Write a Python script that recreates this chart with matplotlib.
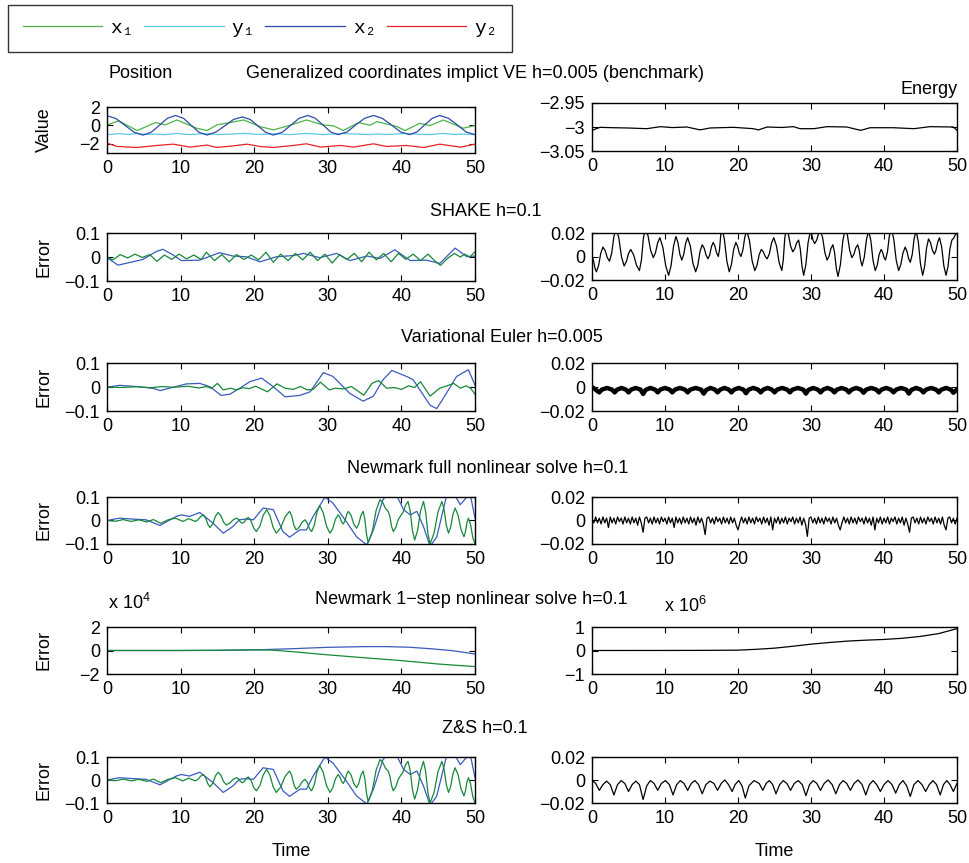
import matplotlib
matplotlib.use('Agg')
import matplotlib.pyplot as plt
from matplotlib.font_manager import FontProperties
import numpy as np

# ---------------- data ----------------
xticks = [0, 10, 20, 30, 40, 50]

# row 1: benchmark positions and energy
bench_x2_t = [0, 1.2, 2.45, 3.7, 4.9, 6.0, 7.1, 8.2, 9.3, 10.4, 11.45, 12.5, 13.6, 14.8, 16.0, 17.2,
              18.4, 19.45, 20.5, 21.55, 22.6, 23.8, 24.95, 26.1, 27.3, 28.3, 29.35, 30.4, 31.4, 32.6,
              33.8, 35.0, 36.2, 37.4, 38.65, 39.9, 41.1, 42.1, 43.15, 44.2, 45.2, 46.4, 47.6, 48.8, 50]
bench_x2 = [1.05, 0.75, 0.0, -0.75, -1.05, -0.75, 0.0, 0.77, 1.08, 0.77, 0.0, -0.75, -1.05, -0.72,
            -0.05, 0.65, 0.92, 0.65, -0.05, -0.75, -1.05, -0.75, 0.0, 0.77, 1.08, 0.77, 0.05, -0.72,
            -1.0, -0.72, 0.05, 0.77, 1.08, 0.77, 0.05, -0.72, -1.0, -0.72, 0.05, 0.77, 1.08, 0.77,
            0.05, -0.72, -1.0]
bench_x1_t = [0, 1.6, 4.1, 6.6, 7.9, 9.5, 12.2, 13.6, 14.9, 16.7, 18.6, 20.8, 22.6, 24.9, 27.1, 29.4,
              30.8, 32.1, 34.2, 35.7, 36.7, 39.4, 40.5, 42.5, 43.9, 45.7, 48.4, 50]
bench_x1 = [0.05, 0.49, -0.56, 0.31, 0.05, 0.59, -0.31, -0.56, 0.05, 0.31, 0.59, -0.13, -0.49, 0.02,
            0.59, 0.05, -0.05, -0.56, 0.31, 0.02, 0.41, -0.13, -0.56, 0.23, -0.02, 0.59, -0.31, -0.02]
bench_y1_t = [0, 0.8, 1.6, 2.8, 4.1, 5.4, 6.6, 7.9, 9.5, 11.0, 12.2, 13.6, 14.9, 16.7, 18.6, 20.8,
              22.6, 24.9, 27.1, 29.4, 32.1, 34.2, 35.7, 36.7, 38.0, 40.5, 42.5, 43.9, 45.7, 47.2, 48.4, 50]
bench_y1 = [-1.0, -0.96, -0.89, -0.99, -0.88, -0.98, -0.95, -1.0, -0.87, -0.99, -0.95, -0.88, -1.0,
            -0.95, -0.87, -0.99, -0.9, -1.0, -0.87, -1.0, -0.88, -0.95, -1.0, -0.93, -0.99, -0.88,
            -0.97, -1.0, -0.87, -0.99, -0.95, -1.0]
bench_y2_t = [0, 1.4, 4.1, 6.8, 9.0, 11.3, 13.6, 14.9, 17.2, 19.0, 20.8, 22.6, 25.3, 27.1, 29.0, 31.7,
              33.5, 36.2, 38.0, 40.7, 43.0, 45.2, 48.0, 50]
bench_y2 = [-1.93, -2.29, -2.40, -2.18, -2.04, -2.36, -2.14, -2.40, -2.22, -2.04, -2.29, -2.40, -2.18,
            -2.0, -2.36, -2.18, -2.36, -2.0, -2.29, -2.18, -2.40, -2.04, -2.36, -2.04]
bench_e_t = [0, 1.1, 3.0, 4.8, 7.5, 9.4, 11.0, 13.0, 14.8, 16.2, 19.4, 22.1, 22.8, 24.0, 26.0, 27.6,
             28.5, 30.4, 32.2, 34.9, 36.8, 38.1, 41.3, 44.1, 46.3, 49.5, 50]
bench_e = [-3.007, -3.0007, -3.0015, -3.002, -3.0035, -2.9993, -3.0012, -3.0, -3.006, -3.002, -3.0007,
           -3.0035, -3.006, -3.0, -3.001, -2.9993, -3.0035, -3.0035, -2.9993, -3.0, -3.007, -3.0015,
           -3.0015, -3.0035, -2.9993, -3.0, -3.007]

# row 2: SHAKE h=0.1
shake_x2_t = [0, 1.5, 3.5, 4.9, 6.7, 7.6, 9.0, 10.1, 12.6, 15.3, 17.1, 18.9, 20.8, 23.0, 25.3, 26.7,
              28.9, 31.2, 33.0, 35.3, 37.1, 39.1, 41.2, 43.4, 45.2, 47.3, 48.9, 50]
shake_x2 = [-0.003, -0.034, -0.02, -0.01, 0.023, 0.032, 0.008, -0.015, -0.013, 0.018, 0.004, 0.001,
            -0.02, 0.001, 0.006, 0.015, -0.003, 0.015, -0.015, 0.004, -0.006, 0.03, -0.015, -0.013,
            -0.027, 0.037, 0.001, 0.004]
shake_x1_t = [0, 0.8, 1.8, 2.8, 3.8, 4.8, 5.8, 6.8, 7.8, 8.8, 9.8, 10.8, 11.8, 12.8, 13.5, 14.6, 15.6,
              16.6, 17.6, 18.6, 19.6, 20.6, 21.6, 22.6, 23.6, 24.6, 25.6, 26.6, 27.6, 28.6, 29.6, 30.6,
              31.6, 32.6, 33.6, 34.6, 35.6, 36.6, 37.6, 38.6, 39.6, 40.6, 41.6, 42.6, 43.6, 44.5, 45.3,
              46.3, 47.2, 48.0, 48.6, 49.3, 50]
shake_x1 = [0.0, -0.012, 0.01, -0.004, 0.012, -0.002, 0.01, -0.018, 0.008, -0.01, 0.012, -0.008, 0.008,
            -0.01, 0.02, -0.015, 0.01, -0.02, 0.01, -0.01, 0.008, -0.012, 0.02, -0.022, 0.012, -0.015,
            0.015, -0.012, 0.02, -0.015, 0.012, -0.025, 0.01, -0.01, 0.015, -0.02, 0.02, -0.012, 0.015,
            -0.02, 0.015, -0.01, 0.012, -0.015, 0.012, -0.015, -0.035, -0.005, 0.015, 0.0, 0.012, 0.0,
            0.022]
shake_e_t = [0, 0.2, 0.4, 0.6, 0.9, 1.2, 1.5, 1.8, 2.1, 2.4, 2.7, 3.0, 3.3, 3.67, 4.03, 4.4, 4.7, 5.0,
             5.3, 5.7, 6.1, 6.5, 6.77, 7.03, 7.3, 7.67, 8.03, 8.4, 8.7, 9.0, 9.3, 9.7, 10.1, 10.5,
             10.83, 11.17, 11.5, 11.77, 12.03, 12.3, 12.57, 12.83, 13.1, 13.47, 13.83, 14.2, 14.5, 14.8,
             15.1, 15.37, 15.63, 15.9, 16.13, 16.37, 16.6, 16.83, 17.07, 17.3, 17.47, 17.63, 17.8, 18.13,
             18.47, 18.8, 19.1, 19.4, 19.7, 19.93, 20.17, 20.4, 20.67, 20.93, 21.2, 21.57, 21.93, 22.3,
             22.6, 22.9, 23.2, 23.47, 23.73, 24.0, 24.3, 24.6, 24.9, 25.27, 25.63, 26.0, 26.2, 26.4,
             26.6, 26.9, 27.2, 27.5, 27.77, 28.03, 28.3, 28.53, 28.77, 29.0, 29.3, 29.6, 29.9, 30.1,
             30.3, 30.5, 30.77, 31.03, 31.3, 31.6, 31.9, 32.2, 32.47, 32.73, 33.0, 33.23, 33.47, 33.7,
             34.03, 34.37, 34.7, 35.0, 35.3, 35.6, 35.87, 36.13, 36.4, 36.6, 36.8, 37.0, 37.3, 37.6,
             37.9, 38.2, 38.5, 38.8, 39.07, 39.33, 39.6, 39.8, 40.0, 40.2, 40.47, 40.73, 41.0, 41.33,
             41.67, 42.0, 42.3, 42.6, 42.9, 43.13, 43.37, 43.6, 43.87, 44.13, 44.4, 44.7, 45.0, 45.3,
             45.57, 45.83, 46.1, 46.37, 46.63, 46.9, 47.13, 47.37, 47.6, 47.9, 48.2, 48.5, 48.77, 49.03,
             49.3, 49.53, 49.77, 50]
shake_e = [0.0, -0.0033, -0.0098, -0.013, -0.0078, 0.0028, 0.008, 0.005, -0.001, -0.004, 0.003, 0.017,
           0.024, 0.016, 0.0, -0.008, -0.0045, 0.0025, 0.006, 0.0015, -0.0075, -0.012, -0.003, 0.015,
           0.024, 0.0178, 0.0053, -0.001, 0.0033, 0.0118, 0.016, 0.008, -0.008, -0.016, -0.0078, 0.0088,
           0.017, 0.012, 0.002, -0.003, 0.0018, 0.0113, 0.016, 0.0088, -0.0058, -0.013, -0.0073, 0.0043,
           0.01, 0.007, 0.001, -0.002, 0.0015, 0.0085, 0.012, 0.009, 0.003, 0.0, 0.006, 0.018,
           0.024, 0.0148, -0.0038, -0.013, -0.0068, 0.0058, 0.012, 0.009, 0.003, 0.0, 0.0055, 0.0165,
           0.022, 0.0135, -0.0035, -0.012, -0.0075, 0.0015, 0.006, 0.004, 0.0, -0.002, 0.0025, 0.0115,
           0.016, 0.009, -0.005, -0.012, -0.003, 0.015, 0.024, 0.019, 0.009, 0.004, 0.0065, 0.0115,
           0.014, 0.0065, -0.0085, -0.016, -0.0068, 0.0118, 0.021, 0.0185, 0.0135, 0.011, 0.0138, 0.0193,
           0.022, 0.0158, 0.0033, -0.003, 0.0003, 0.0068, 0.01, 0.0033, -0.0103, -0.017, -0.0068, 0.0138,
           0.024, 0.0178, 0.0053, -0.001, 0.0018, 0.0073, 0.01, 0.0055, -0.0035, -0.008, -0.0005, 0.0145,
           0.022, 0.0135, -0.0035, -0.012, -0.0075, 0.0015, 0.006, 0.0038, -0.0008, -0.003, 0.0038,
           0.0173, 0.024, 0.015, -0.003, -0.012, -0.007, 0.003, 0.008, 0.0048, -0.0018, -0.005, 0.0018,
           0.0153, 0.022, 0.0125, -0.0065, -0.016, -0.0083, 0.0073, 0.015, 0.0118, 0.0053, 0.002, 0.0055,
           0.0125, 0.016, 0.008, -0.008, -0.016, -0.0085, 0.0065, 0.014, 0.0155, 0.0185, 0.02]

# row 3: Variational Euler h=0.005
ve_x2_t = [0, 1.7, 4.4, 6.3, 7.2, 9.0, 10.8, 12.6, 14.0, 15.5, 16.7, 18.0, 19.4, 21.0, 22.6, 24.2,
           26.2, 27.6, 29.4, 30.7, 33.0, 34.8, 36.2, 37.5, 38.7, 40.7, 41.6, 43.9, 44.8, 46.1, 47.5,
           49.1, 50]
ve_x2 = [-0.001, 0.007, 0.001, -0.006, -0.015, -0.001, 0.013, 0.015, 0.001, -0.035, -0.03, -0.006,
         0.022, 0.037, 0.001, -0.041, -0.035, -0.02, 0.06, 0.044, -0.027, -0.059, -0.038, 0.03, 0.069,
         0.044, 0.03, -0.076, -0.09, -0.027, 0.044, 0.072, 0.008]
ve_x1_t = [0, 2, 4, 6, 7.5, 9, 11, 12.5, 13.5, 14.2, 15.0, 15.8, 16.8, 17.5, 18.5, 19.3, 20.2, 21.8,
           23.1, 24.2, 25.3, 26.3, 27.2, 28.0, 29.0, 30.2, 31.0, 32.2, 33.2, 34.9, 36.0, 36.9, 38.0,
           39.0, 40.0, 41.0, 41.8, 42.6, 43.9, 45.2, 46.2, 47.1, 48.0, 48.8, 49.4, 50]
ve_x1 = [0, -0.002, 0.001, -0.003, 0.002, -0.001, 0.003, -0.004, 0.002, -0.006, 0.015, -0.012, -0.005,
         -0.012, -0.003, -0.007, 0.003, -0.02, 0.013, -0.005, -0.01, 0.002, -0.012, -0.01, 0.02, -0.012,
         -0.005, -0.008, 0.002, -0.034, 0.015, 0.027, -0.005, -0.002, -0.01, 0.005, -0.002, 0.022,
         -0.038, -0.005, 0.005, 0.015, -0.005, 0.005, -0.005, -0.03]
ve_e_t = [0, 0.35, 0.65,
          1.0, 1.35, 2.05, 2.75, 3.1, 3.45, 4.05, 4.65, 5.0, 5.35, 6.0, 6.65, 7.0, 7.35, 8.0, 8.65,
          9.0, 9.35, 10.0, 10.65, 11.0, 11.35, 12.05, 12.75, 13.1, 13.45, 14.2, 14.95, 15.3, 15.65,
          16.25, 16.85, 17.2, 17.55, 18.15, 18.75, 19.1, 19.45, 20.1, 20.75, 21.1, 21.45, 22.1, 22.75,
          23.1, 23.45, 24.05, 24.65, 25.0, 25.35, 26.05, 26.75, 27.1, 27.45, 28.2, 28.95, 29.3, 29.65,
          30.3, 30.95, 31.3, 31.65, 32.25, 32.85, 33.2, 33.55, 34.2, 34.85, 35.2, 35.55, 36.2, 36.85,
          37.2, 37.55, 38.25, 38.95, 39.3, 39.65, 40.3, 40.95, 41.3, 41.65, 42.35, 43.05, 43.4, 43.75,
          44.4, 45.05, 45.4, 45.75, 46.45, 47.15, 47.5, 47.85, 48.5, 49.15,
          49.5, 50]
ve_e = [0.0, -0.0015, -0.003,
        -0.0045, -0.0022, -0.0008, -0.0022, -0.0045, -0.0022, -0.0008, -0.0022,
        -0.0045, -0.0022, -0.0008, -0.0022, -0.0058, -0.0024, -0.0008, -0.0022,
        -0.0045, -0.0022, -0.0008, -0.0022, -0.0045, -0.0022, -0.0008, -0.0022,
        -0.0045, -0.0022, -0.0008, -0.0022, -0.0055, -0.0024, -0.0008, -0.0022,
        -0.0045, -0.0022, -0.0008, -0.0022, -0.0045, -0.0022, -0.0008, -0.0022,
        -0.0052, -0.0022, -0.0008, -0.0022, -0.0045, -0.0022, -0.0008, -0.0022,
        -0.0045, -0.0022, -0.0008, -0.0022, -0.0045, -0.0022, -0.0008, -0.0022,
        -0.0055, -0.0024, -0.0008, -0.0022, -0.0045, -0.0022, -0.0008, -0.0022,
        -0.0045, -0.0022, -0.0008, -0.0022, -0.0045, -0.0022, -0.0008, -0.0022,
        -0.0048, -0.0022, -0.0008, -0.0022, -0.0045, -0.0022, -0.0008, -0.0022,
        -0.0045, -0.0022, -0.0008, -0.0022, -0.0055, -0.0024, -0.0008, -0.0022,
        -0.0045, -0.0022, -0.0008, -0.0022, -0.0045, -0.0022, -0.0008, -0.0022,
        -0.0048, -0.002]

# row 4: Newmark full nonlinear solve h=0.1
nm_x2_t = [0, 1.7, 3.5, 5.3, 7.2, 9.4, 10.1, 11.2, 12.6, 14.4, 15.8, 17.1, 18.0, 18.9, 19.9, 21.2, 22.6,
           23.9, 24.8, 26.2, 27.1, 28.0, 29.6, 30.7, 32.5, 33.9, 35.3, 36.2, 37.5, 38.4, 39.3, 40.3,
           41.2, 42.1, 43.0, 43.9, 44.8, 46.1, 47.1, 48.0, 48.9, 49.3, 50]
nm_x2 = [0, 0.01, 0.006, 0.003, -0.021, 0.017, 0.024, 0.017, 0.034, -0.011, -0.054, -0.026, 0.003,
         0.006, 0.003, 0.053, 0.046, -0.047, -0.071, -0.04, -0.04, 0.017, 0.099, 0.074, -0.004,
         -0.069, -0.104, -0.04, 0.089, 0.12, 0.11, 0.046, 0.024, 0.039, -0.026, -0.11, -0.07, 0.10,
         0.117, 0.067, 0.10, 0.12, 0.01]
nm_x1_t = [0, 1.2, 2.2, 3.3, 4.3, 5.4, 6.3, 7.3, 8.3, 9.3, 10.3, 11.1, 12.0, 12.37, 12.73,
           13.1, 13.4, 13.7, 14.0, 14.37, 14.73, 15.1, 15.47, 15.83, 16.2, 16.67, 17.13, 17.6, 17.87,
           18.13, 18.4, 18.67, 18.93, 19.2, 19.57, 19.93, 20.3, 20.77, 21.23, 21.7, 22.13, 22.57, 23.0,
           23.6, 24.2, 24.8, 25.1, 25.4, 25.7, 26.1, 26.5, 26.9, 27.2, 27.5, 27.8, 28.17, 28.53, 28.9,
           29.37, 29.83, 30.3, 30.67, 31.03, 31.4, 31.63, 31.87, 32.1, 32.33, 32.57, 32.8, 33.17, 33.53,
           33.9, 34.2, 34.5, 34.8, 35.03, 35.27, 35.5, 36.03, 36.57, 37.1, 37.47, 37.83, 38.2, 38.43,
           38.67, 38.9, 39.23, 39.57, 39.9, 40.23, 40.57, 40.9, 41.2, 41.5, 41.8, 42.2, 42.6, 43.0,
           43.3, 43.6, 43.9, 44.43, 44.97, 45.5, 45.8, 46.1, 46.4, 46.7, 47.0, 47.3, 47.7, 48.1, 48.5,
           48.7, 48.9, 49.1, 49.4, 49.7, 50]
nm_x1 = [0, -0.003, 0.004, -0.004, 0.003, -0.006, 0.004, -0.012, 0.003, 0.01, -0.004, 0.008, -0.004,
         0.003, 0.017, 0.024, 0.0105, -0.0165, -0.03, -0.014, 0.018, 0.034, 0.0205, -0.0065, -0.02,
         -0.0125, 0.0025, 0.01, 0.0045, -0.0065, -0.012, -0.0058, 0.0068, 0.013, -0.002, -0.032,
         -0.047, -0.0238, 0.0228, 0.046, 0.021, -0.029, -0.054, -0.0308, 0.0158, 0.039, 0.0193,
         -0.0203, -0.04, -0.0293, -0.0078, 0.003, -0.0095, -0.0345, -0.047, -0.0195, 0.0355, 0.063,
         0.0338, -0.0248, -0.054, -0.0345, 0.0045, 0.024, 0.0143, -0.0053, -0.015, -0.0015, 0.0255,
         0.039, 0.021, -0.015, -0.033, -0.015, 0.021, 0.039, 0.0058, -0.0608, -0.094, -0.0483, 0.0433,
         0.089, 0.0765, 0.0515, 0.039, 0.0175, -0.0255, -0.047, -0.0303, 0.0033, 0.02, 0.0353, 0.0658,
         0.081, 0.04, -0.042, -0.083, -0.042, 0.04, 0.081, 0.0358, -0.0548, -0.1, -0.0548, 0.0358,
         0.081, 0.0473, -0.0203, -0.054, -0.0273, 0.0263, 0.053, 0.0225, -0.0385, -0.069, -0.0493,
         -0.0098, 0.01, -0.0175, -0.0725, -0.1]
# energy error, sampled every 0.25 time units
nm_e = [0.0, -0.002, 0.003, -0.002, 0.002, -0.003, 0.003, -0.002, 0.002, -0.006,
        0.003, -0.002, 0.002, -0.003, 0.003, -0.001, 0.002, -0.003, 0.003, -0.002,
        0.002, -0.003, 0.003, -0.002, 0.002, -0.004, 0.003, -0.002, -0.010, 0.002,
        0.003, -0.002, 0.002, -0.003, 0.003, -0.002, 0.002, -0.003, 0.003, -0.001,
        0.002, -0.003, 0.003, -0.002, 0.002, -0.006, 0.003, -0.002, 0.002, -0.003,
        0.003, -0.002, 0.002, -0.003, 0.003, -0.002, 0.002, -0.004, 0.003, -0.002,
        0.002, -0.003, -0.012, 0.002, 0.003, -0.002, 0.002, -0.003, 0.003, -0.001,
        0.002, -0.003, 0.003, -0.002, 0.002, -0.003, 0.003, -0.002, 0.002, -0.004,
        -0.008, -0.002, 0.003, -0.002, 0.002, -0.003, 0.003, -0.002, 0.002, -0.003,
        0.003, -0.001, 0.002, -0.003, 0.003, -0.002, 0.002, -0.004, 0.003, -0.008,
        0.002, -0.002, 0.003, -0.003, 0.002, -0.002, 0.003, -0.003, 0.002, -0.001,
        0.003, -0.003, 0.002, -0.002, 0.003, -0.004, 0.002, -0.003, -0.0135, 0.002,
        0.003, -0.002, 0.002, -0.003, 0.003, -0.002, 0.002, -0.003, 0.003, -0.001,
        0.002, -0.003, 0.003, -0.002, 0.002, -0.004, -0.008, -0.002, 0.003, -0.002,
        0.002, -0.003, 0.003, -0.002, 0.002, -0.003, 0.003, -0.001, 0.002, -0.003,
        0.003, -0.002, 0.002, -0.004, 0.003, -0.008, 0.002, -0.002, 0.003, -0.003,
        0.002, -0.002, 0.003, -0.003, 0.002, -0.001, 0.003, -0.003, 0.002, -0.002,
        0.003, -0.004, 0.002, -0.003, -0.010, 0.002, 0.003, -0.002, 0.002, -0.003,
        0.003, -0.002, 0.002, -0.003, 0.003, -0.001, 0.002, -0.003, 0.003, -0.002,
        0.002, -0.003, 0.003, -0.004, -0.008, 0.002, 0.003, -0.002, 0.002, -0.003,
        0.002]

# row 5: Newmark 1-step nonlinear solve h=0.1 (real units)
one_x2_t = [0, 10, 15, 20, 25, 30, 35, 38, 41, 44, 47, 50]
one_x2 = [0, 0, 100, 500, 1500, 2700, 3300, 3300, 2800, 1500, -200, -3000]
one_x1_t = [0, 10, 15, 20, 22.5, 25, 30, 35, 40, 45, 50]
one_x1 = [0, 0, 200, 600, 300, -900, -3700, -6200, -8600, -11500, -13700]
one_e_t = [0, 10, 15, 20, 22.5, 25, 27.5, 30, 32.5, 35, 37.5, 40, 42.5, 45, 47.5, 50]
one_e = [0, 2e3, 5e3, 1.5e4, 5e4, 1e5, 1.8e5, 2.7e5, 3.4e5, 4.0e5, 4.4e5, 4.7e5, 5.2e5, 6.0e5, 7.2e5,
         9.3e5]

# row 6: Z&S h=0.1 (position errors coincide with the Newmark full solve)
zs_x2_t, zs_x2 = nm_x2_t, nm_x2
zs_x1_t, zs_x1 = nm_x1_t, nm_x1
zs_e_t = [0, 0.5, 1.0, 1.5, 2.0, 2.5, 3.0, 3.5, 4.0, 4.5, 5.0, 5.5, 6.0, 6.5, 7.0, 7.5, 8.0, 8.5, 9.0,
          9.5, 10.05, 10.6, 11.1, 11.6, 12.1, 12.6, 13.1, 13.6, 14.1, 14.6, 15.1, 15.6, 16.15, 16.7,
          17.2, 17.7, 18.2, 18.7, 19.2, 19.6, 20.1, 20.55, 21.0, 21.5, 22.2, 22.9, 23.4, 23.85, 24.3,
          24.75, 25.2, 25.7, 26.2, 26.7, 27.2, 27.7, 28.25, 28.8, 29.3, 29.8, 30.3, 30.8, 31.3, 31.8,
          32.35, 32.9, 33.4, 33.9, 34.4, 34.9, 35.4, 35.9, 36.45, 37.0, 37.5, 38.0, 38.5, 39.0, 39.5,
          40.0, 40.55, 41.1, 41.6, 42.1, 42.6, 43.1, 43.6, 44.1, 44.65, 45.2, 45.7, 46.2, 46.7, 47.2,
          47.7, 48.15, 48.6, 49.05, 49.5, 50]
zs_e = [0.0, -0.003, -0.009, -0.004, -0.001, -0.004, -0.013, -0.004, -0.0005, -0.003, -0.010, -0.004,
        -0.001, -0.004, -0.017, -0.005, -0.0005, -0.003, -0.009, -0.003, -0.0005, -0.004, -0.013,
        -0.004, -0.0005, -0.003, -0.009, -0.003, -0.0005, -0.004, -0.012, -0.004, -0.001, -0.003,
        -0.009, -0.003, 0.0, -0.004, -0.010, -0.004, -0.0005, -0.005, -0.0157, -0.005, -0.0005,
        -0.003, -0.009, -0.003, -0.0005, -0.004, -0.012, -0.004, -0.0005, -0.003, -0.009, -0.003,
        -0.0005, -0.004, -0.0137, -0.004, -0.0005, -0.003, -0.009, -0.003, 0.0, -0.004, -0.012,
        -0.004, -0.0005, -0.003, -0.009, -0.003, 0.0, -0.004, -0.013, -0.004, -0.0005, -0.004,
        -0.010, -0.004, -0.0005, -0.004, -0.0114, -0.004, -0.0005, -0.005, -0.0143, -0.004, -0.0005,
        -0.004, -0.010, -0.004, -0.0005, -0.004, -0.013, -0.004, -0.0005, -0.004, -0.010, -0.003]

titles = ["Generalized coordinates implict VE h=0.005 (benchmark)", "SHAKE h=0.1",
          "Variational Euler h=0.005", "Newmark full nonlinear solve h=0.1",
          "Newmark 1\u2212step nonlinear solve h=0.1", "Z&S h=0.1"]
legend_labels = ['x\u2081', 'y\u2081', 'x\u2082', 'y\u2082']
err_ticks = [-0.1, 0, 0.1]
err_labels = ['\u22120.1', '0', '0.1']
en_ticks = [-0.02, 0, 0.02]
en_labels = ['\u22120.02', '0', '0.02']

W, H = 970, 863
GREEN_L, CYAN, BLUE, RED = '#4cb446', '#5cc8e8', '#2c4ca8', '#e8242a'
GREEN_D, BLUE_E = '#16883a', '#3a5bbf'


def rect(l, t, r, b):
    return [l / W, 1 - b / H, (r - l) / W, (b - t) / H]


def style(ax, ylim, yticks, ylabels):
    ax.set_xlim(0, 50)
    ax.set_ylim(ylim)
    ax.set_xticks(xticks)
    ax.set_yticks(yticks)
    ax.set_yticklabels(ylabels)
    ax.tick_params(direction='in', top=True, right=True, length=4, width=0.8,
                   labelsize=13, pad=5)
    for s in ax.spines.values():
        s.set_linewidth(1.0)


def ftext(x, y, s, **kw):
    fig = plt.gcf()
    fig.text(x / W, 1 - y / H, s, fontsize=13, **kw)


def main():
    plt.rcParams['font.family'] = ['Liberation Sans', 'DejaVu Sans']
    plt.rcParams['mathtext.fontset'] = 'custom'
    plt.rcParams['mathtext.rm'] = 'Liberation Sans'

    fig = plt.figure(figsize=(9.7, 8.63), dpi=100)
    lw = 0.9

    left_rows = [(107, 153), (233, 281), (363, 411), (497, 544), (627, 674), (757, 803)]
    right_rows = [(103, 151), (233, 280), (363, 411), (497, 544), (627, 674), (757, 803)]
    axl = [fig.add_axes(rect(107, t, 475, b)) for t, b in left_rows]
    axr = [fig.add_axes(rect(592, t, 957, b)) for t, b in right_rows]

    # Row 1
    ax = axl[0]
    h1, = ax.plot(bench_x1_t, bench_x1, color=GREEN_L, lw=lw)
    h2, = ax.plot(bench_y1_t, bench_y1, color=CYAN, lw=lw)
    h3, = ax.plot(bench_x2_t, bench_x2, color=BLUE, lw=lw)
    h4, = ax.plot(bench_y2_t, bench_y2, color=RED, lw=lw)
    style(ax, (-3, 2), [-2, 0, 2], ['\u22122', '0', '2'])
    ax = axr[0]
    ax.plot(bench_e_t, bench_e, color='k', lw=lw)
    style(ax, (-3.05, -2.95), [-3.05, -3, -2.95], ['\u22123.05', '\u22123', '\u22122.95'])

    # Rows 2-4, 6 (error panels)
    nm_e_t = np.linspace(0, 50, len(nm_e))
    err_sets = [(shake_x2_t, shake_x2, shake_x1_t, shake_x1, shake_e_t, shake_e, 1),
                (ve_x2_t, ve_x2, ve_x1_t, ve_x1, ve_e_t, ve_e, 2),
                (nm_x2_t, nm_x2, nm_x1_t, nm_x1, nm_e_t, nm_e, 3),
                (zs_x2_t, zs_x2, zs_x1_t, zs_x1, zs_e_t, zs_e, 5)]
    for x2t, x2, x1t, x1, et, e, i in err_sets:
        ax = axl[i]
        ax.plot(x2t, x2, color=BLUE_E, lw=lw)
        ax.plot(x1t, x1, color=GREEN_D, lw=lw)
        style(ax, (-0.1, 0.1), err_ticks, err_labels)
        ax = axr[i]
        ax.plot(et, e, color='k', lw=3.2 if i == 2 else lw)
        style(ax, (-0.02, 0.02), en_ticks, en_labels)

    # Row 5
    ax = axl[4]
    ax.plot(one_x2_t, one_x2, color=BLUE_E, lw=lw)
    ax.plot(one_x1_t, one_x1, color=GREEN_D, lw=lw)
    style(ax, (-2e4, 2e4), [-2e4, 0, 2e4], ['\u22122', '0', '2'])
    ax = axr[4]
    ax.plot(one_e_t, one_e, color='k', lw=lw)
    style(ax, (-1e6, 1e6), [-1e6, 0, 1e6], ['\u22121', '0', '1'])

    # texts
    title_pos = [(475, 73), (486, 211), (502, 337), (488, 468), (471, 599), (485, 728)]
    for s, (x, y) in zip(titles, title_pos):
        ftext(x, y, s, ha='center', va='center')
    ftext(108, 73, 'Position', ha='left', va='center')
    ftext(958, 90, 'Energy', ha='right', va='center')
    ylab_y = [130, 257, 387, 520, 650, 780]
    for k, y in enumerate(ylab_y):
        ftext(44, y, 'Value' if k == 0 else 'Error', rotation=90, ha='center', va='center')
    ftext(291, 851, 'Time', ha='center', va='center')
    ftext(774, 851, 'Time', ha='center', va='center')
    ftext(108, 603, r'x 10$^{4}$', ha='left', va='center')
    ftext(664, 606, r'x 10$^{6}$', ha='left', va='center')

    leg = fig.legend([h1, h2, h3, h4], legend_labels, loc='upper left',
                     bbox_to_anchor=(8 / W, 1 - 5 / H), ncol=4, frameon=True, fancybox=False,
                     edgecolor='k', borderaxespad=0, handlelength=4.1, handletextpad=0.4,
                     columnspacing=0.53, borderpad=0.75,
                     prop=FontProperties(family=['Liberation Mono', 'DejaVu Sans Mono'], size=14))
    leg.get_frame().set_linewidth(1.0)

    fig.savefig('out.png', dpi=100)


if __name__ == "__main__":
    main()
